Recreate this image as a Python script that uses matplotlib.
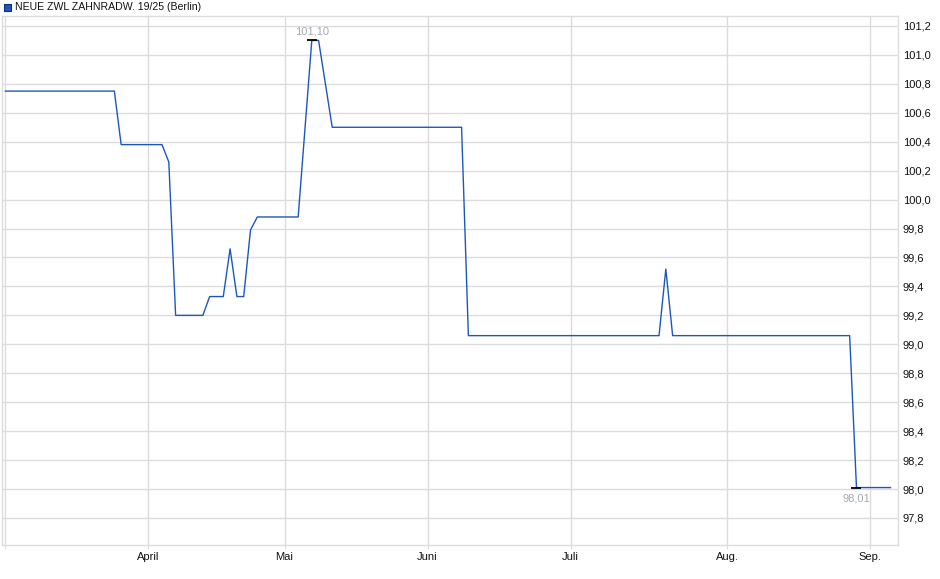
import matplotlib
matplotlib.use("Agg")
import matplotlib.pyplot as plt
from matplotlib.patches import Rectangle
from matplotlib.ticker import FuncFormatter
import numpy as np
import pandas as pd

# ---- data ----
title = "NEUE ZWL ZAHNRADW. 19/25 (Berlin)"
dates = ["2025-03-03", "2025-03-25", "2025-03-26", "2025-04-03", "2025-04-04",
         "2025-04-07", "2025-04-11", "2025-04-14", "2025-04-16", "2025-04-17",
         "2025-04-22", "2025-04-23", "2025-04-24", "2025-04-25", "2025-05-06",
         "2025-05-08", "2025-05-09", "2025-05-13", "2025-06-09", "2025-06-10",
         "2025-07-18", "2025-07-21", "2025-07-22", "2025-08-27", "2025-08-28",
         "2025-09-04"]
values = [100.75, 100.75, 100.38, 100.38, 100.26,
          99.20, 99.20, 99.33, 99.33, 99.66,
          99.33, 99.33, 99.79, 99.88, 99.88,
          101.10, 101.10, 100.50, 100.50, 99.06,
          99.06, 99.52, 99.06, 99.06, 98.01,
          98.01]
holidays = ["2025-04-18", "2025-04-21", "2025-05-01"]
month_starts = ["2025-03-01", "2025-04-01", "2025-05-01", "2025-06-01",
                "2025-07-01", "2025-08-01", "2025-09-01"]
month_labels = ["", "April", "Mai", "Juni", "Juli", "Aug.", "Sep."]
high_label = "101,10"
low_label = "98,01"

# ---- trading-day axis ----
cal = pd.bdate_range("2025-03-01", "2025-09-30", freq="C", holidays=holidays)
pos = {d: i for i, d in enumerate(cal)}
x = [pos[pd.Timestamp(d)] for d in dates]
month_pos = [int(np.searchsorted(cal, pd.Timestamp(m))) for m in month_starts]

W, H = 940, 579
fig = plt.figure(figsize=(W / 100, H / 100), dpi=100)
plt.rcParams['font.family'] = ['Liberation Sans', 'DejaVu Sans']
ax = fig.add_axes([2 / W, 1 - 545 / H, 896 / W, 529 / H])

line_color = "#1c57c0"
grid_color = "#dcdcdc"

ax.plot(x, values, color=line_color, lw=1.0, zorder=3)

# high / low markers
vals = np.array(values)
i_hi = int(np.argmax(vals))
i_lo = int(np.argmin(vals))
ax.plot([x[i_hi]], [vals[i_hi]], marker="_", color="black", ms=7, mew=1.3, zorder=4)
ax.plot([x[i_lo]], [vals[i_lo]], marker="_", color="black", ms=7, mew=1.3, zorder=4)
ax.annotate(high_label, (x[i_hi], vals[i_hi]), xytext=(0, 2.5), textcoords="offset points",
            ha="center", va="bottom", fontsize=8, color="#a3a9b5")
ax.annotate(low_label, (x[i_lo], vals[i_lo]), xytext=(0, -4.5), textcoords="offset points",
            ha="center", va="top", fontsize=8, color="#a3a9b5")

ax.set_xlim(-0.5, 131.1)
ax.set_ylim(97.613, 101.269)

ax.set_xticks(month_pos)
ax.set_xticklabels(month_labels)
ax.set_yticks(np.round(np.arange(97.8, 101.21, 0.2), 1))
ax.yaxis.set_major_formatter(FuncFormatter(lambda v, p: f"{v:.1f}".replace(".", ",")))
ax.yaxis.tick_right()

ax.grid(True, color=grid_color, lw=1.0)
ax.set_axisbelow(True)
for s in ax.spines.values():
    s.set_color(grid_color)
    s.set_linewidth(1.0)

ax.tick_params(axis="x", length=3, color=grid_color, labelsize=8, pad=2, labelcolor="#111111")
ax.tick_params(axis="y", length=0, labelsize=8, pad=3.5, labelcolor="#111111")

# legend-like title
fig.add_artist(Rectangle((4 / W, 1 - 11 / H), 7 / W, 7 / H, transform=fig.transFigure,
                         facecolor=line_color, edgecolor="#0d2f70", lw=0.8))
fig.text(15 / W, 1 - 7 / H, title, fontsize=7.6, va="center", ha="left", color="#111111")

fig.savefig("out.png", dpi=100)
